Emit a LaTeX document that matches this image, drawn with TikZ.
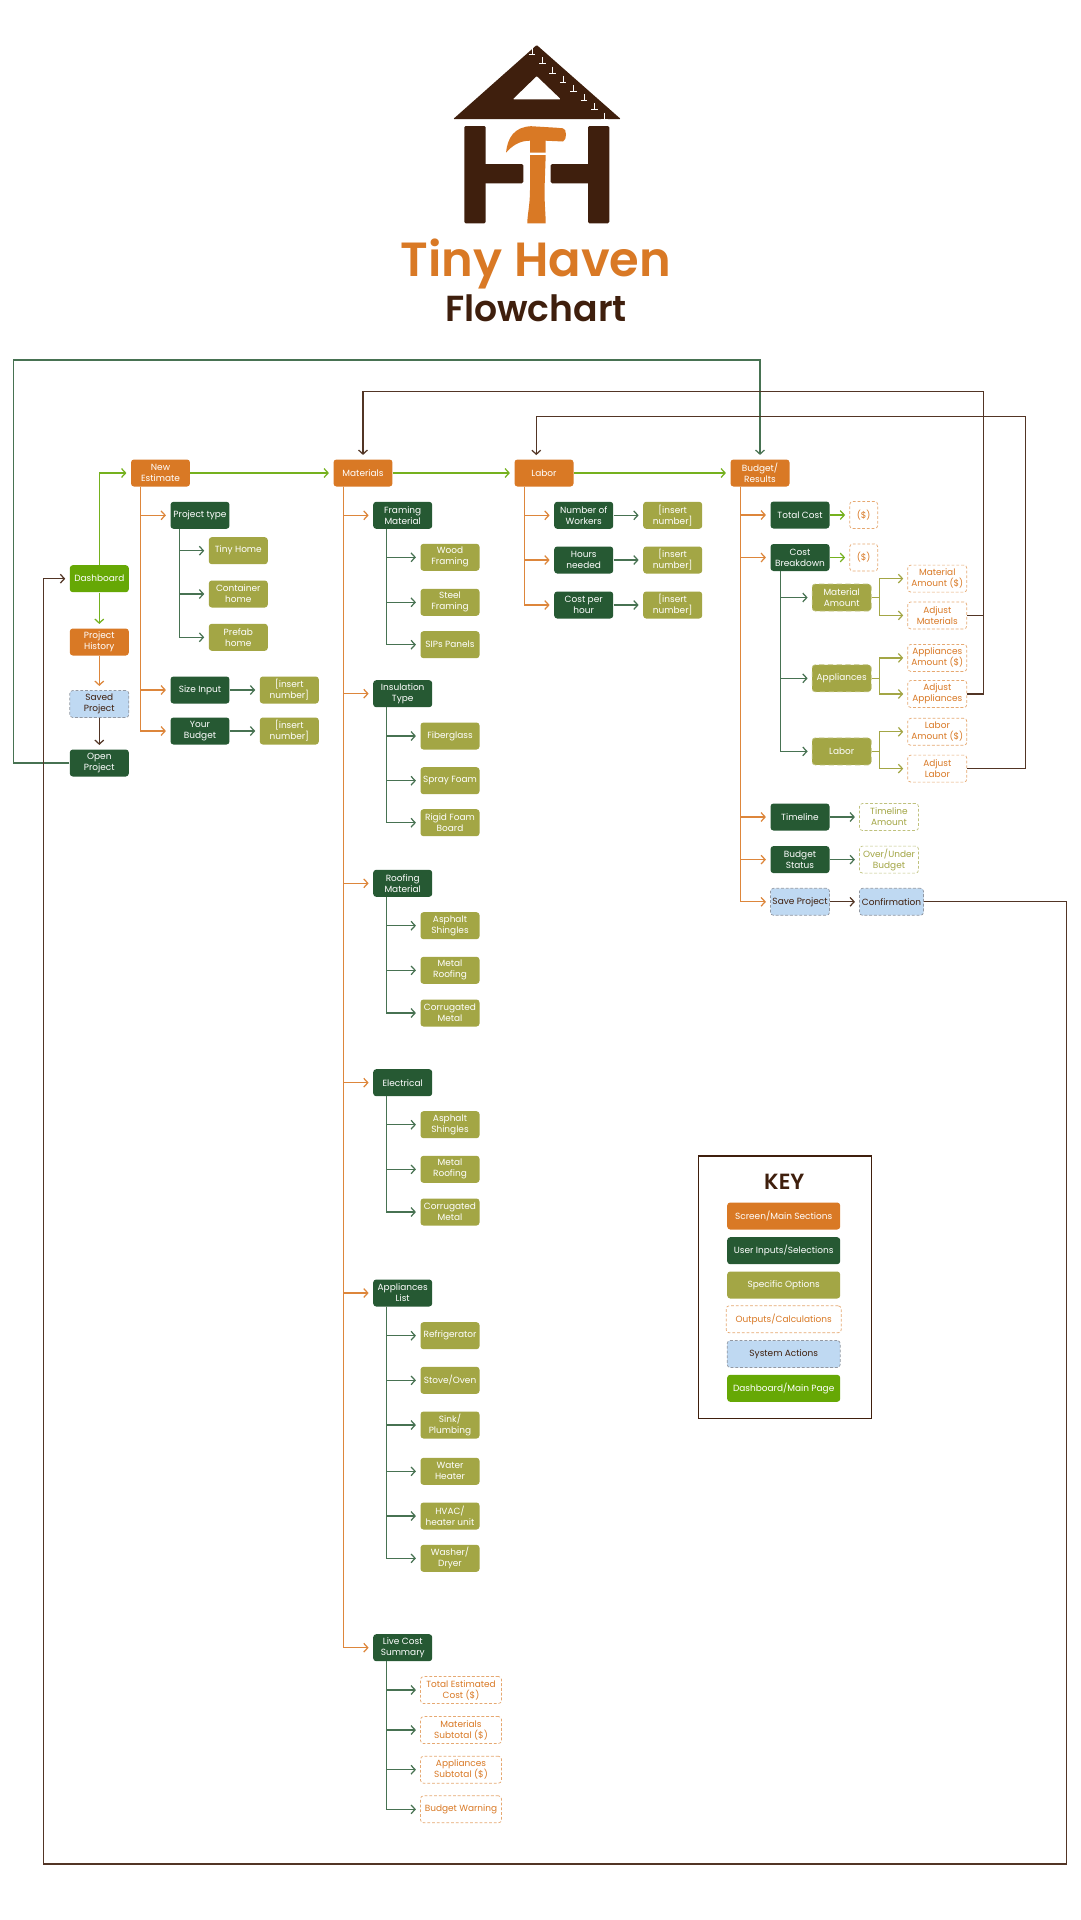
\documentclass[tikz,border=0pt]{standalone}
\usepackage{fontspec}
\usetikzlibrary{arrows.meta}
\setmainfont{Poppins}
\newfontfamily\titlefont{Poppins SemiBold}
\definecolor{thorange}{HTML}{D97925}
\definecolor{thgreen}{HTML}{265933}
\definecolor{tholive}{HTML}{A3A645}
\definecolor{thlime}{HTML}{66A805}
\definecolor{thblue}{HTML}{BFD9F2}
\definecolor{thbrown}{HTML}{3F1F0D}
\tikzset{
	basebox/.style={rectangle,rounded corners=1.7pt,minimum width=1.18cm,minimum height=.54cm,inner sep=0pt,align=center,font=\fontsize{5.1}{6.25}\selectfont},
	screenbox/.style={basebox,fill=thorange,text=white},
	inputbox/.style={basebox,fill=thgreen,text=white},
	optionbox/.style={basebox,fill=tholive,text=white},
	dashoptbox/.style={optionbox,draw=tholive!70!white,densely dashed},
	outputbox/.style={basebox,draw=thorange!65!white,dash pattern=on 1.6pt off 1.1pt,text=thorange},
	olivebox/.style={basebox,draw=tholive!70!white,dash pattern=on 1.6pt off 1.1pt,text=tholive},
	systembox/.style={basebox,fill=thblue,draw=thbrown!35!thblue,dash pattern=on 1.6pt off 1.1pt,text=thbrown},
	homebox/.style={basebox,fill=thlime,text=white},
	link/.style={line width=.7pt,-{Straight Barb[length=2.3pt,width=5pt]},shorten >=2.4pt},
	orlink/.style={link,draw=thorange!90!white},
	grlink/.style={link,draw=thgreen!85!white},
	limelink/.style={link,draw=thlime!90!white},
	olink/.style={link,draw=tholive},
	brlink/.style={link,draw=thbrown!90!white}
}
\begin{document}
\begin{tikzpicture}[x=.02cm,y=-.02cm]
	\useasboundingbox (0,0) rectangle (1080,1920);
	\fill[white] (0,0) rectangle (1080,1920);
	% logo
	\fill[thbrown,even odd rule,rounded corners=.5pt] (536.7,45) -- (620.7,119) -- (453.3,119) -- cycle (536.7,76) -- (512.7,99.3) -- (561,99.3) -- cycle;
	\foreach \i in {0,...,7}
		\draw[white,line width=.4pt] ({531.9+\i*10.4},{48.1+\i*9.2}) -- ++(0,6.5) ++(-3.3,0) -- ++(6.6,0);
	\fill[thbrown,rounded corners=.8pt] (464.3,126) rectangle (485.7,223.3);
	\fill[thbrown,rounded corners=.8pt] (588,126) rectangle (609.3,223.3);
	\fill[thbrown,rounded corners=.8pt] (480,164) rectangle (523.3,183.3);
	\fill[thbrown,rounded corners=.8pt] (550.7,164) rectangle (595,183.3);
	\fill[thorange] (506,152.7) .. controls (507.5,138) and (514,127) .. (531,126.2) -- (556,127.7) -- (563,128.3) .. controls (567,129) and (567,140) .. (563,141.5) -- (545.7,140.7) -- (545.7,152.7) -- (530,152.7) -- (530,140.7) .. controls (519,140.7) and (512,146) .. (506,152.7) -- cycle;
	\fill[thorange] (530,155) -- (545.7,155) -- (544.5,190) .. controls (544.5,205) and (545.7,215) .. (545.7,223.3) -- (527.3,223.3) .. controls (527.3,215) and (530,205) .. (530,190) -- cycle;
	\node[text=thorange,font=\titlefont\fontsize{27.3}{27.3}\selectfont,inner sep=0pt,anchor=base] (title) at (536,276.7) {Tiny Haven};
	\node[text=thbrown,font=\titlefont\fontsize{20.6}{20.6}\selectfont,inner sep=0pt,anchor=base] (subtitle) at (536,321.7) {Flowchart};
	% left column
	\node[homebox] (dash) at (99.3,578.7) {Dashboard};
	\node[screenbox] (hist) at (99.3,642) {Project\\History};
	\node[systembox] (saved) at (99.3,704) {Saved\\Project};
	\node[inputbox] (open) at (99.3,763) {Open\\Project};
	% screens
	\node[screenbox] (newest) at (160.5,473) {New\\Estimate};
	\node[screenbox] (mats) at (363,473) {Materials};
	\node[screenbox] (lab) at (544,473) {Labor};
	\node[screenbox] (budget) at (760,473) {Budget/\\Results};
	% new estimate
	\node[inputbox] (ptype) at (200,515.3) {Project type};
	\node[optionbox] (tiny) at (238.3,550.7) {Tiny Home};
	\node[optionbox] (cont) at (238.3,594) {Container\\home};
	\node[optionbox] (pref) at (238.3,637.3) {Prefab\\home};
	\node[inputbox] (size) at (200,690) {Size Input};
	\node[optionbox] (sizeval) at (289.3,690) {[insert\\number]};
	\node[inputbox] (yourb) at (200,731) {Your\\Budget};
	\node[optionbox] (yourval) at (289.3,731) {[insert\\number]};
	% materials
	\node[inputbox] (fram) at (402.7,515.3) {Framing\\Material};
	\node[optionbox] (wood) at (450,557.3) {Wood\\Framing};
	\node[optionbox] (steel) at (450,602.3) {Steel\\Framing};
	\node[optionbox] (sips) at (450,644.7) {SIPs Panels};
	\node[inputbox] (insu) at (402.7,693.7) {Insulation\\Type};
	\node[optionbox] (fibr) at (450,736) {Fiberglass};
	\node[optionbox] (spray) at (450,780.7) {Spray Foam};
	\node[optionbox] (rigid) at (450,822.7) {Rigid Foam\\Board};
	\node[inputbox] (roof) at (402.7,883.3) {Roofing\\Material};
	\node[optionbox] (asph) at (450,925.7) {Asphalt\\Shingles};
	\node[optionbox] (metal) at (450,970.3) {Metal\\Roofing};
	\node[optionbox] (corr) at (450,1013) {Corrugated\\Metal};
	\node[inputbox] (elec) at (402.7,1082.7) {Electrical};
	\node[optionbox] (asphb) at (450,1124.7) {Asphalt\\Shingles};
	\node[optionbox] (metalb) at (450,1169.3) {Metal\\Roofing};
	\node[optionbox] (corrb) at (450,1212) {Corrugated\\Metal};
	\node[inputbox] (appl) at (402.7,1293) {Appliances\\List};
	\node[optionbox] (refr) at (450,1335.7) {Refrigerator};
	\node[optionbox] (stove) at (450,1380.3) {Stove/Oven};
	\node[optionbox] (sink) at (450,1425) {Sink/\\Plumbing};
	\node[optionbox] (water) at (450,1471.3) {Water\\Heater};
	\node[optionbox] (hvac) at (450,1516) {HVAC/\\heater unit};
	\node[optionbox] (wash) at (450,1558.3) {Washer/\\Dryer};
	\node[inputbox] (live) at (402.7,1647.7) {Live Cost\\Summary};
	\node[outputbox,minimum width=1.62cm] (totest) at (461,1690) {Total Estimated\\Cost (\$)};
	\node[outputbox,minimum width=1.62cm] (matsub) at (461,1730) {Materials\\Subtotal (\$)};
	\node[outputbox,minimum width=1.62cm] (appsub) at (461,1769.7) {Appliances\\Subtotal (\$)};
	\node[outputbox,minimum width=1.62cm] (warn) at (461,1809.3) {Budget Warning};
	% labor
	\node[inputbox] (work) at (583.7,515.3) {Number of\\Workers};
	\node[optionbox] (workval) at (672.7,515.3) {[insert\\number]};
	\node[inputbox] (hours) at (583.7,560) {Hours\\needed};
	\node[optionbox] (hoursval) at (672.7,560) {[insert\\number]};
	\node[inputbox] (cost) at (583.7,605) {Cost per\\hour};
	\node[optionbox] (costval) at (672.7,605) {[insert\\number]};
	% budget
	\node[inputbox] (total) at (800,515) {Total Cost};
	\node[outputbox,minimum width=.56cm] (totalval) at (863.7,515) {(\$)};
	\node[inputbox] (brk) at (800,557.5) {Cost\\Breakdown};
	\node[outputbox,minimum width=.56cm] (brkval) at (863.7,557.5) {(\$)};
	\node[dashoptbox] (matamt) at (841.7,597.5) {Material\\Amount};
	\node[outputbox] (matval) at (937.3,578.6) {Material\\Amount (\$)};
	\node[outputbox] (adjmat) at (937.3,615.4) {Adjust\\Materials};
	\node[dashoptbox] (appamt) at (841.7,678.3) {Appliances};
	\node[outputbox] (appval) at (937.3,657.9) {Appliances\\Amount (\$)};
	\node[outputbox] (adjapp) at (937.3,694) {Adjust\\Appliances};
	\node[dashoptbox] (labamt) at (841.7,751.4) {Labor};
	\node[outputbox] (labval) at (937.3,731.8) {Labor\\Amount (\$)};
	\node[outputbox] (adjlab) at (937.3,768.6) {Adjust\\Labor};
	\node[inputbox] (time) at (800,817) {Timeline};
	\node[olivebox] (timeval) at (889,817) {Timeline\\Amount};
	\node[inputbox] (status) at (800,859.6) {Budget\\Status};
	\node[olivebox] (statusval) at (889,859.6) {Over/Under\\Budget};
	\node[systembox] (save) at (800,901.8) {Save Project};
	\node[systembox,minimum width=1.28cm] (conf) at (891.5,901.8) {Confirmation};
	% key
	\draw[thbrown,line width=.8pt] (698.3,1156) rectangle (871.7,1418.7);
	\node[text=thbrown,font=\titlefont\fontsize{12.5}{12.5}\selectfont,inner sep=0pt] (keyhead) at (784.3,1181.7) {KEY};
	\node[screenbox,minimum width=2.26cm] (keya) at (783.7,1216) {Screen/Main Sections};
	\node[inputbox,minimum width=2.26cm] (keyb) at (783.7,1250.7) {User Inputs/Selections};
	\node[optionbox,minimum width=2.26cm] (keyc) at (783.7,1285) {Specific Options};
	\node[outputbox,minimum width=2.3cm] (keyd) at (783.7,1319.3) {Outputs/Calculations};
	\node[systembox,minimum width=2.26cm] (keye) at (783.7,1354) {System Actions};
	\node[homebox,minimum width=2.26cm] (keyf) at (783.7,1388.3) {Dashboard/Main Page};
	% junction points
	\coordinate (netrunk) at (140.7,486.5);
	\coordinate (pttrunk) at (179.7,528.8);
	\coordinate (mattrunk) at (343.3,486.5);
	\coordinate (framtrunk) at (386.7,528.8);
	\coordinate (insutrunk) at (386.7,707.2);
	\coordinate (rooftrunk) at (386.7,896.8);
	\coordinate (electrunk) at (386.7,1096.2);
	\coordinate (appltrunk) at (386.7,1306.5);
	\coordinate (livetrunk) at (386.7,1661.2);
	\coordinate (labtrunk) at (524.3,486.5);
	\coordinate (budtrunk) at (740.7,486.5);
	\coordinate (brktrunk) at (780.3,571);
	\coordinate (fbmat) at (983.7,391.8);
	\coordinate (fblab) at (1025.7,416.8);
	\coordinate (labin) at (536.3,459.3);
	\coordinate (loopa) at (13.3,360);
	\coordinate (loopb) at (1066.7,1864);
	\coordinate (loopc) at (43.3,1864);
	% flow
	\draw[limelink] (dash.north) |- (newest.west);
	\draw[limelink] (dash.south) -- (hist.north);
	\draw[orlink] (hist.south) -- (saved.north);
	\draw[brlink] (saved.south) -- (open.north);
	\draw[limelink] (newest.east) -- (mats.west);
	\draw[limelink] (mats.east) -- (lab.west);
	\draw[limelink] (lab.east) -- (budget.west);
	\draw[grlink] (open.west) -| (loopa) -| (budget.north);
	\draw[brlink] (adjmat.east) -| (fbmat) -| (mats.north);
	\draw[thbrown!90!white,line width=.7pt] (adjapp.east) -| (fbmat);
	\draw[brlink] (adjlab.east) -| (fblab) -| (labin);
	\draw[brlink] (conf.east) -| (loopb) -- (loopc) |- (dash.west);
	% new estimate links
	\draw[orlink] (netrunk) |- (ptype.west);
	\draw[orlink] (netrunk) |- (size.west);
	\draw[orlink] (netrunk) |- (yourb.west);
	\draw[grlink] (pttrunk) |- (tiny.west);
	\draw[grlink] (pttrunk) |- (cont.west);
	\draw[grlink] (pttrunk) |- (pref.west);
	\draw[grlink] (size.east) -- (sizeval.west);
	\draw[grlink] (yourb.east) -- (yourval.west);
	% materials links
	\draw[orlink] (mattrunk) |- (fram.west);
	\draw[orlink] (mattrunk) |- (insu.west);
	\draw[orlink] (mattrunk) |- (roof.west);
	\draw[orlink] (mattrunk) |- (elec.west);
	\draw[orlink] (mattrunk) |- (appl.west);
	\draw[orlink] (mattrunk) |- (live.west);
	\draw[grlink] (framtrunk) |- (wood.west);
	\draw[grlink] (framtrunk) |- (steel.west);
	\draw[grlink] (framtrunk) |- (sips.west);
	\draw[grlink] (insutrunk) |- (fibr.west);
	\draw[grlink] (insutrunk) |- (spray.west);
	\draw[grlink] (insutrunk) |- (rigid.west);
	\draw[grlink] (rooftrunk) |- (asph.west);
	\draw[grlink] (rooftrunk) |- (metal.west);
	\draw[grlink] (rooftrunk) |- (corr.west);
	\draw[grlink] (electrunk) |- (asphb.west);
	\draw[grlink] (electrunk) |- (metalb.west);
	\draw[grlink] (electrunk) |- (corrb.west);
	\draw[grlink] (appltrunk) |- (refr.west);
	\draw[grlink] (appltrunk) |- (stove.west);
	\draw[grlink] (appltrunk) |- (sink.west);
	\draw[grlink] (appltrunk) |- (water.west);
	\draw[grlink] (appltrunk) |- (hvac.west);
	\draw[grlink] (appltrunk) |- (wash.west);
	\draw[grlink] (livetrunk) |- (totest.west);
	\draw[grlink] (livetrunk) |- (matsub.west);
	\draw[grlink] (livetrunk) |- (appsub.west);
	\draw[grlink] (livetrunk) |- (warn.west);
	% labor links
	\draw[orlink] (labtrunk) |- (work.west);
	\draw[orlink] (labtrunk) |- (hours.west);
	\draw[orlink] (labtrunk) |- (cost.west);
	\draw[grlink] (work.east) -- (workval.west);
	\draw[grlink] (hours.east) -- (hoursval.west);
	\draw[grlink] (cost.east) -- (costval.west);
	% budget links
	\draw[orlink] (budtrunk) |- (total.west);
	\draw[orlink] (budtrunk) |- (brk.west);
	\draw[orlink] (budtrunk) |- (time.west);
	\draw[orlink] (budtrunk) |- (status.west);
	\draw[orlink] (budtrunk) |- (save.west);
	\draw[limelink] (total.east) -- (totalval.west);
	\draw[limelink] (brk.east) -- (brkval.west);
	\draw[grlink] (brktrunk) |- (matamt.west);
	\draw[grlink] (brktrunk) |- (appamt.west);
	\draw[grlink] (brktrunk) |- (labamt.west);
	\draw[olink] (matamt.east) -- ++(8,0) |- (matval.west);
	\draw[olink] (matamt.east) -- ++(8,0) |- (adjmat.west);
	\draw[olink] (appamt.east) -- ++(8,0) |- (appval.west);
	\draw[olink] (appamt.east) -- ++(8,0) |- (adjapp.west);
	\draw[olink] (labamt.east) -- ++(8,0) |- (labval.west);
	\draw[olink] (labamt.east) -- ++(8,0) |- (adjlab.west);
	\draw[grlink] (time.east) -- (timeval.west);
	\draw[grlink] (status.east) -- (statusval.west);
	\draw[brlink] (save.east) -- (conf.west);
\end{tikzpicture}
\end{document}
